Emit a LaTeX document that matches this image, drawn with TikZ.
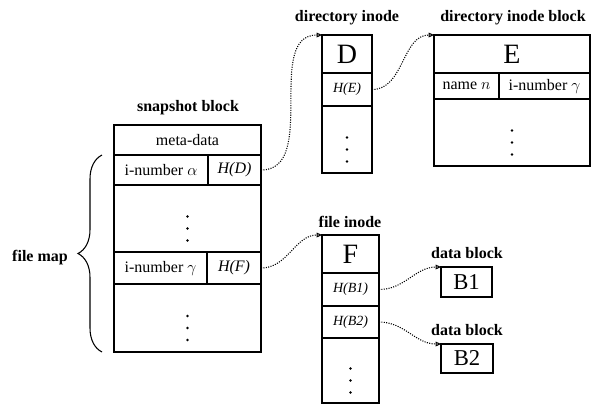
\documentclass[tikz,border=0pt]{standalone}
\usepackage{fontspec}
\setmainfont{Liberation Serif}
\usetikzlibrary{arrows.meta,decorations.pathreplacing}

\tikzset{
  cell/.style n args={2}{draw, line width=0.8pt, inner sep=0pt, outer sep=0pt, anchor=north west,
    minimum width=#1*0.75pt, minimum height=#2*0.75pt, font=\fontsize{12}{14}\selectfont},
  small/.style={font=\fontsize{10.5}{12}\selectfont},
  big/.style={font=\fontsize{21}{24}\selectfont},
  title/.style={font=\bfseries\fontsize{12}{14}\selectfont},
  ptr/.style={densely dotted, line width=0.8pt, -{Triangle[open,length=4pt,width=3.5pt]}},
}

% three dots a bit below the middle of a cell
\newcommand{\celldots}[1]{\foreach \dy in {-2,10,22} \fill ([yshift=-\dy*0.75pt]#1.center) circle (1.1pt);}

\begin{document}
\begin{tikzpicture}[x=0.75pt,y=-0.75pt]
\useasboundingbox (0,0) rectangle (591,405);

% snapshot block
\node[title] (snaptitle) at (188,108) {snapshot block};
\node[cell={147}{30}] (meta)  at (114,125) {meta-data};
\node[cell={94}{30}]  (ia)    at (114,155) {i-number $\alpha$};
\node[cell={53}{30}]  (hd)    at (208,155) {\textit{H(D)}};
\node[cell={147}{67}] (dotsa) at (114,185) {};
\node[cell={93}{32}]  (ig)    at (114,252) {i-number $\gamma$};
\node[cell={54}{32}]  (hf)    at (207,252) {\textit{H(F)}};
\node[cell={147}{68}] (dotsb) at (114,284) {};
\celldots{dotsa}
\celldots{dotsb}

% file map brace
\coordinate (mapbot) at (102,352);
\coordinate (maptop) at (102,155);
\draw[decorate, decoration={brace, amplitude=18pt}, line width=0.8pt] (mapbot) -- (maptop);
\node[title] (maptitle) at (40,258) {file map};

% directory inode
\node[title] (dirtitle) at (347,18) {directory inode};
\node[cell={50}{38}, big]   (dD)    at (322,35)  {D};
\node[cell={50}{33}, small] (he)    at (322,73)  {\textit{H(E)}};
\node[cell={50}{67}]        (ddots) at (322,106) {};
\celldots{ddots}

% directory inode block
\node[title] (blocktitle) at (513,18) {directory inode block};
\node[cell={156}{38}, big] (bE)    at (434,35) {E};
\node[cell={65}{26}]       (nm)    at (434,73) {name $n$};
\node[cell={91}{26}]       (ign)   at (499,73) {i-number $\gamma$};
\node[cell={156}{67}]      (bdots) at (434,99) {};
\celldots{bdots}

% file inode
\node[title] (filetitle) at (350,222) {file inode};
\node[cell={57}{38}, big]   (fF)    at (322,235) {F};
\node[cell={57}{33}, small] (hb1)   at (322,273) {\textit{H(B1)}};
\node[cell={57}{32}, small] (hb2)   at (322,306) {\textit{H(B2)}};
\node[cell={57}{65}]        (fdots) at (322,338) {};
\celldots{fdots}

% data blocks
\node[title] (datatitlea) at (467,253) {data block};
\node[cell={51}{30}, font=\fontsize{17}{20}\selectfont] (ba) at (441,267) {B1};
\node[title] (datatitleb) at (467,330) {data block};
\node[cell={52}{29}, font=\fontsize{17}{20}\selectfont] (bb) at (441,344) {B2};

% pointers
\draw[ptr] (hd.east)  to[out=0,in=180] (dD.north west);
\draw[ptr] (he.east)  to[out=0,in=180] (bE.north west);
\draw[ptr] (hf.east)  to[out=0,in=180] (fF.north west);
\draw[ptr] (hb1.east) to[out=0,in=180] (ba.north west);
\draw[ptr] (hb2.east) to[out=0,in=180] (bb.north west);

\end{tikzpicture}
\end{document}
